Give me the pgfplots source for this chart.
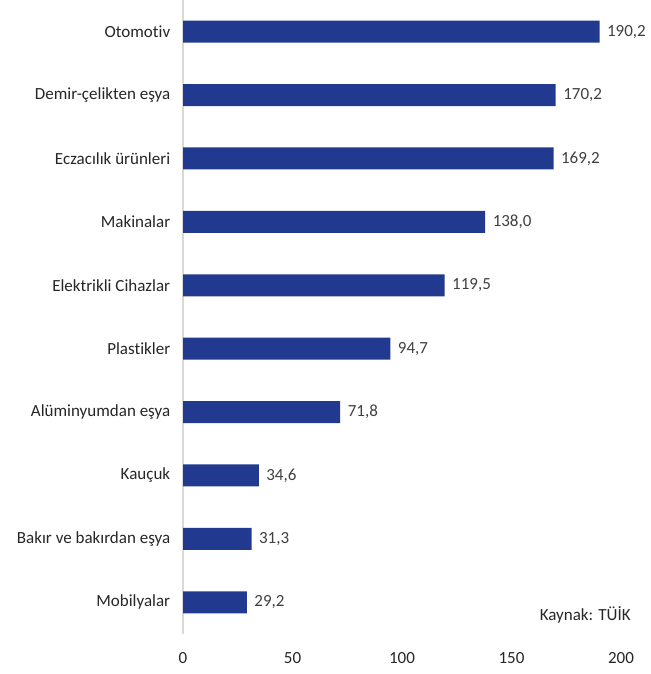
\documentclass[border=0pt]{standalone}
\usepackage{pgfplots}
\pgfplotsset{compat=1.18}
\usepackage{fontspec}
\setmainfont{Carlito}[Ligatures={NoCommon}]
\definecolor{barblue}{HTML}{213A8F}
\definecolor{txt}{HTML}{262626}
\definecolor{vtxt}{HTML}{404040}
\definecolor{axgray}{HTML}{D9D9D9}
\begin{document}
\begin{tikzpicture}
\useasboundingbox (0,0) rectangle (650pt,674pt);
\begin{axis}[
  at={(183pt,40pt)}, anchor=south west,
  scale only axis, width=438pt, height=634pt,
  xbar, bar width=22pt,
  xmin=0, xmax=200, ymin=-0.5, ymax=9.5,
  axis lines*=left,
  x axis line style={draw=none},
  y axis line style={draw=axgray, line width=1.3pt},
  tick style={draw=none},
  xtick={0,50,100,150,200},
  ytick={0,...,9},
  yticklabels={Mobilyalar, Bakır ve bakırdan eşya, Kauçuk\hspace{4pt}, Alüminyumdan eşya, Plastikler\hspace{4pt}, Elektrikli Cihazlar, Makinalar, Eczacılık ürünleri, Demir-çelikten eşya, Otomotiv},
  /pgf/number format/assume math mode=true,
  ticklabel style={font=\fontsize{17}{20}\selectfont, text=txt},
  xticklabel style={yshift=-15pt},
  yticklabel style={xshift=-5pt},
  nodes near coords,
  nodes near coords style={font=\fontsize{17}{20}\selectfont, text=vtxt, xshift=4pt,
    /pgf/number format/.cd, fixed, fixed zerofill, precision=1, use comma, assume math mode=true},
  clip=false,
]
\addplot[fill=barblue, draw=none] coordinates {
  (29.2,0) (31.3,1) (34.6,2) (71.8,3) (94.7,4) (119.5,5) (138.0,6) (169.2,7) (170.2,8) (190.2,9)
};
\node[anchor=east, font=\fontsize{17}{20}\selectfont, text=txt] at (rel axis cs:1.03,0.03) {Kaynak: TÜİK};
\end{axis}
\end{tikzpicture}
\end{document}
